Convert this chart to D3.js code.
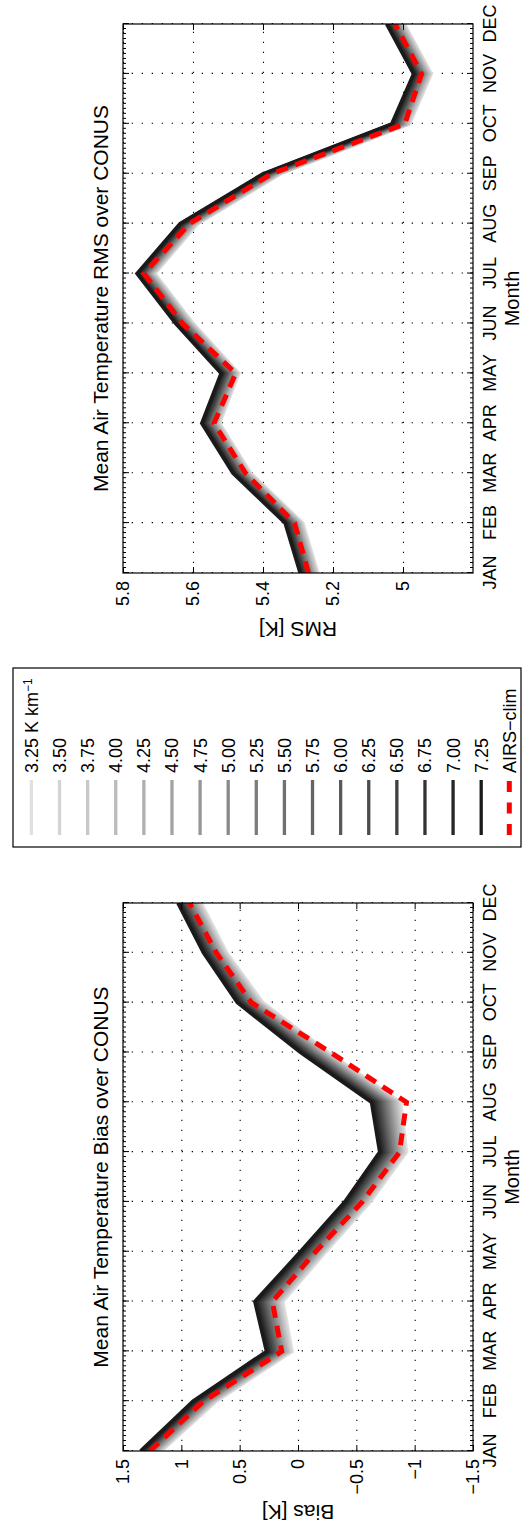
<!DOCTYPE html>
<html>
<head>
<meta charset="utf-8">
<script src="https://cdn.jsdelivr.net/npm/d3@7"></script>
<style>
    body { margin: 0; background: #fff; }
    text { font-family: "Liberation Sans", Arial, Helvetica, sans-serif; }
</style>
</head>
<body>
<div id="figure"></div>
<script>
var months = ['JAN', 'FEB', 'MAR', 'APR', 'MAY', 'JUN', 'JUL', 'AUG', 'SEP', 'OCT', 'NOV', 'DEC'];
var lapseRates = ['3.25', '3.50', '3.75', '4.00', '4.25', '4.50', '4.75', '5.00', '5.25',
    '5.50', '5.75', '6.00', '6.25', '6.50', '6.75', '7.00', '7.25'];
var airsName = 'AIRS\u2212clim';

// Bias [K], one row per lapse rate (3.25 first), one value per month
var biasValues = [
    [1.170, 0.700, 0.050, 0.130, -0.240, -0.620, -0.930, -0.880, -0.260, 0.300, 0.610, 0.830],
    [1.181, 0.713, 0.064, 0.145, -0.226, -0.606, -0.916, -0.864, -0.245, 0.314, 0.623, 0.843],
    [1.193, 0.725, 0.078, 0.160, -0.213, -0.593, -0.901, -0.849, -0.230, 0.328, 0.635, 0.855],
    [1.204, 0.738, 0.091, 0.175, -0.199, -0.579, -0.887, -0.833, -0.215, 0.341, 0.648, 0.868],
    [1.215, 0.750, 0.105, 0.190, -0.185, -0.565, -0.873, -0.818, -0.200, 0.355, 0.660, 0.880],
    [1.226, 0.763, 0.119, 0.205, -0.171, -0.551, -0.858, -0.802, -0.185, 0.369, 0.673, 0.893],
    [1.238, 0.775, 0.133, 0.220, -0.158, -0.538, -0.844, -0.786, -0.170, 0.383, 0.685, 0.905],
    [1.249, 0.788, 0.146, 0.235, -0.144, -0.524, -0.829, -0.771, -0.155, 0.396, 0.698, 0.918],
    [1.260, 0.800, 0.160, 0.250, -0.130, -0.510, -0.815, -0.755, -0.140, 0.410, 0.710, 0.930],
    [1.271, 0.813, 0.174, 0.265, -0.116, -0.496, -0.801, -0.739, -0.125, 0.424, 0.723, 0.943],
    [1.283, 0.825, 0.188, 0.280, -0.103, -0.483, -0.786, -0.724, -0.110, 0.438, 0.735, 0.955],
    [1.294, 0.838, 0.201, 0.295, -0.089, -0.469, -0.772, -0.708, -0.095, 0.451, 0.748, 0.968],
    [1.305, 0.850, 0.215, 0.310, -0.075, -0.455, -0.758, -0.693, -0.080, 0.465, 0.760, 0.980],
    [1.316, 0.863, 0.229, 0.325, -0.061, -0.441, -0.743, -0.677, -0.065, 0.479, 0.773, 0.993],
    [1.328, 0.875, 0.243, 0.340, -0.048, -0.428, -0.729, -0.661, -0.050, 0.493, 0.785, 1.005],
    [1.339, 0.888, 0.256, 0.355, -0.034, -0.414, -0.714, -0.646, -0.035, 0.506, 0.798, 1.018],
    [1.350, 0.900, 0.270, 0.370, -0.020, -0.400, -0.700, -0.630, -0.020, 0.520, 0.810, 1.030]
];
var biasAirs = [1.27, 0.81, 0.14, 0.22, -0.15, -0.55, -0.87, -0.93, -0.28, 0.40, 0.70, 0.93];

// RMS [K], same layout
var rmsValues = [
    [5.243, 5.286, 5.435, 5.524, 5.469, 5.599, 5.709, 5.586, 5.349, 4.981, 4.919, 4.996],
    [5.246, 5.289, 5.438, 5.527, 5.472, 5.602, 5.712, 5.589, 5.352, 4.984, 4.922, 4.999],
    [5.249, 5.292, 5.441, 5.530, 5.475, 5.605, 5.715, 5.592, 5.355, 4.987, 4.925, 5.002],
    [5.252, 5.295, 5.444, 5.533, 5.478, 5.608, 5.718, 5.595, 5.358, 4.990, 4.928, 5.005],
    [5.256, 5.299, 5.448, 5.537, 5.482, 5.612, 5.722, 5.599, 5.362, 4.994, 4.932, 5.009],
    [5.259, 5.302, 5.451, 5.540, 5.485, 5.615, 5.725, 5.602, 5.365, 4.997, 4.935, 5.012],
    [5.262, 5.305, 5.454, 5.543, 5.488, 5.618, 5.728, 5.605, 5.368, 5.000, 4.938, 5.015],
    [5.265, 5.308, 5.457, 5.546, 5.491, 5.621, 5.731, 5.608, 5.371, 5.003, 4.941, 5.018],
    [5.268, 5.311, 5.460, 5.549, 5.494, 5.624, 5.734, 5.611, 5.374, 5.006, 4.944, 5.021],
    [5.272, 5.315, 5.464, 5.553, 5.498, 5.628, 5.738, 5.615, 5.378, 5.010, 4.948, 5.025],
    [5.275, 5.318, 5.467, 5.556, 5.501, 5.631, 5.741, 5.618, 5.381, 5.013, 4.951, 5.028],
    [5.278, 5.321, 5.470, 5.559, 5.504, 5.634, 5.744, 5.621, 5.384, 5.016, 4.954, 5.031],
    [5.281, 5.324, 5.473, 5.562, 5.507, 5.637, 5.747, 5.624, 5.387, 5.019, 4.957, 5.034],
    [5.284, 5.327, 5.476, 5.565, 5.510, 5.640, 5.750, 5.627, 5.390, 5.022, 4.960, 5.037],
    [5.288, 5.331, 5.480, 5.569, 5.514, 5.644, 5.754, 5.631, 5.394, 5.026, 4.964, 5.041],
    [5.291, 5.334, 5.483, 5.572, 5.517, 5.647, 5.757, 5.634, 5.397, 5.029, 4.967, 5.044],
    [5.294, 5.337, 5.486, 5.575, 5.520, 5.650, 5.760, 5.637, 5.400, 5.032, 4.970, 5.047]
];
var rmsAirs = [5.270, 5.310, 5.450, 5.540, 5.478, 5.630, 5.740, 5.610, 5.375, 4.995, 4.947, 5.023];

var biasDomain = [-1.5, 1.5];
var biasTicks = [-1.5, -1, -0.5, 0, 0.5, 1, 1.5];
var rmsDomain = [4.8, 5.8];
var rmsTicks = [5, 5.2, 5.4, 5.6, 5.8];

// The figure is laid out landscape and then turned a quarter turn
var pageWidth = 523;
var pageHeight = 1532;

var biasBox = {left: 81, right: 629, top: 123, bottom: 473, labelGap: 54};
var rmsBox = {left: 959, right: 1508, top: 123, bottom: 473, labelGap: 49};
var legendBox = {left: 685, right: 864, top: 13, bottom: 521};

var tickFont = 18;
var labelFont = 21;
var lineWidth = 3.5;
var airsWidth = 5;
var airsDash = '12,8';

var shade = d3.scaleLinear().domain([0, lapseRates.length - 1]).range([0.88, 0.1]);

function lineColor(i) {
    var v = Math.round(shade(i) * 255);
    return d3.rgb(v, v, v).toString();
}

function styleTicks(g) {
    g.select('.domain').remove();
    g.selectAll('line').attr('stroke', '#000').attr('stroke-width', 1);
    g.selectAll('text')
        .attr('fill', '#000')
        .style('font-family', '"Liberation Sans", Arial, sans-serif')
        .style('font-size', tickFont + 'px');
}

function styleGrid(g) {
    g.select('.domain').remove();
    g.selectAll('line')
        .attr('stroke', '#000')
        .attr('stroke-width', 1.1)
        .attr('stroke-dasharray', '1.3,8.7');
    g.selectAll('text').remove();
}

function drawPanel(fig, box, id, values, airs, domain, ticks, title, yLabel) {
    var width = box.right - box.left;
    var height = box.bottom - box.top;

    var x = d3.scalePoint().domain(months).range([box.left, box.right]);
    var y = d3.scaleLinear().domain(domain).range([box.bottom, box.top]);
    var minor = d3.scaleLinear().domain([0, months.length - 1]).range([box.left, box.right]);

    var panel = fig.append('g').attr('id', id);

    panel.append('clipPath').attr('id', id + '-clip')
        .append('rect')
        .attr('x', box.left)
        .attr('y', box.top)
        .attr('width', width)
        .attr('height', height);

    panel.append('rect')
        .attr('x', box.left)
        .attr('y', box.top)
        .attr('width', width)
        .attr('height', height)
        .attr('fill', '#fff');

    // Dotted grid
    panel.append('g')
        .attr('transform', 'translate(0,' + box.bottom + ')')
        .call(d3.axisBottom(x).tickSize(-height))
        .call(styleGrid);
    panel.append('g')
        .attr('transform', 'translate(' + box.left + ',0)')
        .call(d3.axisLeft(y).tickValues(ticks).tickSize(-width))
        .call(styleGrid);

    // Lines, lightest first so the black one sits on top
    var line = d3.line()
        .x(function (d, i) { return x(months[i]); })
        .y(function (d) { return y(d); });

    var plot = panel.append('g').attr('clip-path', 'url(#' + id + '-clip)');

    plot.selectAll('.rate')
        .data(values)
        .enter()
        .append('path')
        .attr('class', 'rate')
        .attr('d', line)
        .attr('fill', 'none')
        .attr('stroke', function (d, i) { return lineColor(i); })
        .attr('stroke-width', lineWidth)
        .attr('stroke-linejoin', 'miter');

    plot.append('path')
        .datum(airs)
        .attr('d', line)
        .attr('fill', 'none')
        .attr('stroke', '#ff0000')
        .attr('stroke-width', airsWidth)
        .attr('stroke-dasharray', airsDash);

    // Axes with inward ticks on all four sides
    panel.append('g')
        .attr('transform', 'translate(0,' + box.bottom + ')')
        .call(d3.axisBottom(x).tickSizeInner(-6).tickSizeOuter(0).tickPadding(10))
        .call(styleTicks);
    panel.append('g')
        .attr('transform', 'translate(0,' + box.top + ')')
        .call(d3.axisTop(x).tickSizeInner(-6).tickSizeOuter(0).tickFormat(''))
        .call(styleTicks);
    panel.append('g')
        .attr('transform', 'translate(0,' + box.bottom + ')')
        .call(d3.axisBottom(minor).ticks(110).tickSizeInner(-3).tickSizeOuter(0).tickFormat(''))
        .call(styleTicks);
    panel.append('g')
        .attr('transform', 'translate(0,' + box.top + ')')
        .call(d3.axisTop(minor).ticks(110).tickSizeInner(-3).tickSizeOuter(0).tickFormat(''))
        .call(styleTicks);
    panel.append('g')
        .attr('transform', 'translate(' + box.left + ',0)')
        .call(d3.axisLeft(y).tickValues(ticks).tickSizeInner(-6).tickSizeOuter(0)
            .tickPadding(8).tickFormat(d3.format('')))
        .call(styleTicks);
    panel.append('g')
        .attr('transform', 'translate(' + box.right + ',0)')
        .call(d3.axisRight(y).tickValues(ticks).tickSizeInner(-6).tickSizeOuter(0).tickFormat(''))
        .call(styleTicks);

    panel.append('rect')
        .attr('x', box.left)
        .attr('y', box.top)
        .attr('width', width)
        .attr('height', height)
        .attr('fill', 'none')
        .attr('stroke', '#000')
        .attr('stroke-width', 1.2);

    // Texts
    panel.append('text')
        .attr('x', (box.left + box.right) / 2)
        .attr('y', 108)
        .attr('text-anchor', 'middle')
        .style('font-size', labelFont + 'px')
        .text(title);

    panel.append('text')
        .attr('x', (box.left + box.right) / 2)
        .attr('y', 519)
        .attr('text-anchor', 'middle')
        .style('font-size', '20px')
        .text('Month');

    panel.append('text')
        .attr('transform', 'translate(' + (box.left - box.labelGap) + ',' + ((box.top + box.bottom) / 2) + ') rotate(-90)')
        .attr('text-anchor', 'middle')
        .style('font-size', labelFont + 'px')
        .text(yLabel);
}

function drawLegend(fig) {
    var legend = fig.append('g').attr('id', 'legend');
    var names = lapseRates.concat([airsName]);
    var row = d3.scalePoint().domain(d3.range(names.length)).range([31.4, 509.3]);

    legend.append('rect')
        .attr('x', legendBox.left)
        .attr('y', legendBox.top)
        .attr('width', legendBox.right - legendBox.left)
        .attr('height', legendBox.bottom - legendBox.top)
        .attr('fill', '#fff')
        .attr('stroke', '#000')
        .attr('stroke-width', 1.2);

    var entries = legend.selectAll('.entry')
        .data(names)
        .enter()
        .append('g')
        .attr('class', 'entry')
        .attr('transform', function (d, i) { return 'translate(0,' + row(i) + ')'; });

    entries.append('line')
        .attr('x1', legendBox.left + 12)
        .attr('x2', legendBox.left + 67)
        .attr('stroke', function (d, i) { return i < lapseRates.length ? lineColor(i) : '#ff0000'; })
        .attr('stroke-width', function (d, i) { return i < lapseRates.length ? 3.3 : airsWidth; })
        .attr('stroke-dasharray', function (d, i) { return i < lapseRates.length ? null : '11,10.5'; });

    var labels = entries.append('text')
        .attr('x', legendBox.left + 74)
        .attr('dy', '0.36em')
        .style('font-size', '18px');

    labels.append('tspan').text(function (d) { return d; });

    // Unit on the first entry only
    labels.filter(function (d, i) { return i === 0; })
        .append('tspan').text(' K km');
    labels.filter(function (d, i) { return i === 0; })
        .append('tspan')
        .attr('dy', '-0.45em')
        .style('font-size', '12px')
        .text('\u22121');
}

var svg = d3.select('#figure').append('svg')
    .attr('width', pageWidth)
    .attr('height', pageHeight);

svg.append('rect').attr('width', pageWidth).attr('height', pageHeight).attr('fill', '#fff');

var fig = svg.append('g')
    .attr('transform', 'translate(0,' + pageHeight + ') rotate(-90)');

drawPanel(fig, biasBox, 'bias', biasValues, biasAirs, biasDomain, biasTicks,
    'Mean Air Temperature Bias over CONUS', 'Bias [K]');
drawPanel(fig, rmsBox, 'rms', rmsValues, rmsAirs, rmsDomain, rmsTicks,
    'Mean Air Temperature RMS over CONUS', 'RMS [K]');
drawLegend(fig);
</script>
</body>
</html>
